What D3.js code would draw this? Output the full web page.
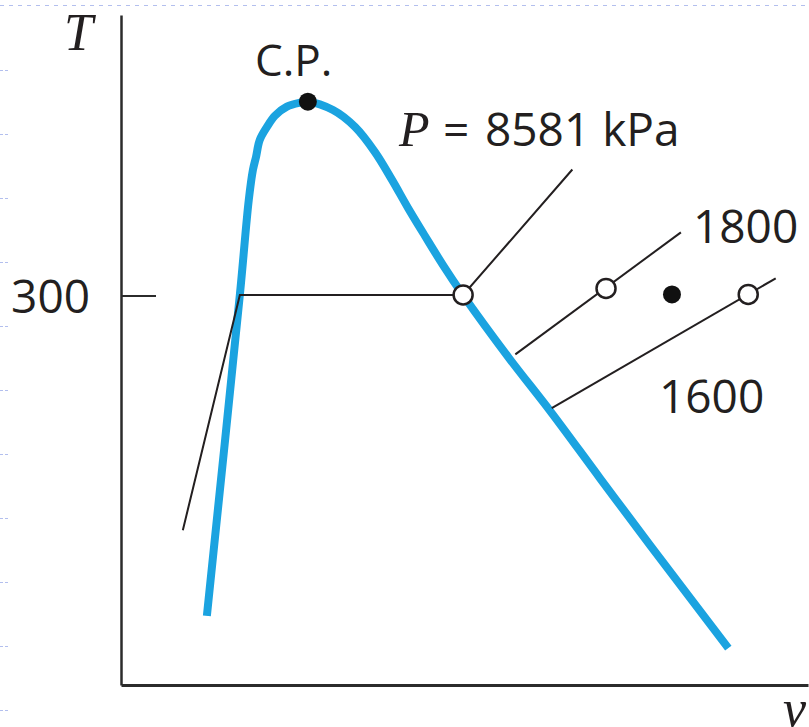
<!DOCTYPE html>
<html><head><meta charset="utf-8">
<script src="https://cdn.jsdelivr.net/npm/d3@7"></script>
<style>html,body{margin:0;padding:0;background:#fff;}svg{display:block}</style>
</head><body>
<svg id="chart" width="809" height="727"></svg>
<script>
// ---- data (v in arbitrary units, T in K) ----
const domeV = [1.25, 1.73, 1.86, 1.92, 1.965, 2.02, 2.125, 2.24, 2.415, 2.605, 2.72, 3.086, 3.406, 3.697, 3.945, 4.178, 4.425, 4.687, 4.978, 5.648, 6.259, 6.97, 7.70, 8.84];
const domeT = [176.6, 300.2, 336.8, 348.3, 353.3, 359.9, 364.9, 369.2, 372.7, 374.2, 374.6, 371.4, 364.9, 355.2, 344.5, 333.7, 322.9, 311.7, 300.2, 275.9, 255.1, 229.7, 203.9, 164.2];
const cpV = [2.72];
const cpT = [374.6];
const iso8581V = [0.90, 1.73, 4.98, 6.57];
const iso8581T = [209.6, 300.2, 300.2, 348.5];
const iso1800V = [5.74, 8.15];
const iso1800T = [277.3, 324.3];
const iso1600V = [6.27, 9.53];
const iso1600T = [256.6, 306.6];
const openStateV = [4.98, 7.06, 9.13];
const openStateT = [300.2, 302.7, 300.4];
const filledStateV = [8.02];
const filledStateT = [300.4];
const tTickValues = [300];
const tTickLabels = ["300"];
const pressureLabels = ["8581 kPa", "1800", "1600"];

const zip = (vs, ts) => vs.map((v, i) => ({v, T: ts[i]}));

const svg = d3.select("#chart");
const ink = "#231f20";
const blue = "#1ba3e0";
const sans = "'Open Sans', 'Noto Sans', sans-serif";
const serif = "'Liberation Serif', 'DejaVu Serif', serif";

// page artefacts (faint dashed border)
svg.append("line").attr("x1", 0).attr("x2", 809).attr("y1", 5.5).attr("y2", 5.5)
  .attr("stroke", "#b3bfee").attr("stroke-width", 1).attr("stroke-dasharray", "4,5");
svg.append("g").selectAll("line").data(d3.range(70, 727, 64)).join("line")
  .attr("x1", 0).attr("x2", 9).attr("y1", d => d + 0.5).attr("y2", d => d + 0.5)
  .attr("stroke", "#b3bfee").attr("stroke-width", 1).attr("stroke-dasharray", "3,2");

const x = d3.scaleLinear().domain([0, 10]).range([121, 808]);
const y = d3.scaleLinear().domain([150, 408]).range([685, 15]);

// axes
const yAxis = svg.append("g").attr("transform", "translate(121,0)")
  .call(d3.axisLeft(y).tickValues(tTickValues).tickFormat((d, i) => tTickLabels[i])
    .tickSizeInner(-35).tickSizeOuter(0).tickPadding(31));
yAxis.select(".domain").attr("stroke", "#2b2b2b").attr("stroke-width", 2.5);
yAxis.selectAll(".tick line").attr("stroke", "#2b2b2b").attr("stroke-width", 2);
yAxis.selectAll(".tick text").attr("font-family", sans).attr("font-size", 46)
  .attr("fill", ink).attr("dy", "0.36em");

const xAxis = svg.append("g").attr("transform", "translate(0,685)")
  .call(d3.axisBottom(x).tickValues([]).tickSizeOuter(0));
xAxis.select(".domain").attr("stroke", "#2b2b2b").attr("stroke-width", 3);

// axis titles
svg.append("text").attr("x", 64).attr("y", 50).text("T")
  .attr("font-family", serif).attr("font-style", "italic").attr("font-size", 52).attr("fill", ink);
svg.append("text").attr("x", 783).attr("y", 726).text("v")
  .attr("font-family", serif).attr("font-style", "italic").attr("font-size", 52).attr("fill", ink);

// saturation dome
const curve = d3.line().x(d => x(d.v)).y(d => y(d.T)).curve(d3.curveCatmullRom.alpha(0.5));
svg.append("path").datum(zip(domeV, domeT)).attr("d", curve)
  .attr("fill", "none").attr("stroke", blue).attr("stroke-width", 8).attr("stroke-linecap", "butt")
  .attr("stroke-linejoin", "round");

// isobars
const lin = d3.line().x(d => x(d.v)).y(d => y(d.T));
[zip(iso8581V, iso8581T), zip(iso1800V, iso1800T), zip(iso1600V, iso1600T)].forEach(pts => {
  svg.append("path").datum(pts).attr("d", lin)
    .attr("fill", "none").attr("stroke", ink).attr("stroke-width", 2);
});

// state points
svg.append("g").selectAll("circle").data(zip(openStateV, openStateT)).join("circle")
  .attr("cx", d => x(d.v)).attr("cy", d => y(d.T)).attr("r", 9.5)
  .attr("fill", "#fff").attr("stroke", ink).attr("stroke-width", 2.5);
svg.append("g").selectAll("circle").data(zip(filledStateV, filledStateT).concat(zip(cpV, cpT))).join("circle")
  .attr("cx", d => x(d.v)).attr("cy", d => y(d.T)).attr("r", 9).attr("fill", "#111");

// labels
svg.append("text").attr("x", 255).attr("y", 76).text("C.P.")
  .attr("font-family", sans).attr("font-size", 44).attr("fill", ink);
const pl = svg.append("text").attr("y", 146).attr("fill", ink);
pl.append("tspan").attr("x", 399).text("P")
  .attr("font-family", serif).attr("font-style", "italic").attr("font-size", 50);
pl.append("tspan").attr("x", 443).text("=")
  .attr("font-family", sans).attr("font-size", 46);
pl.append("tspan").attr("x", 485).text(pressureLabels[0])
  .attr("font-family", sans).attr("font-size", 46);
svg.append("text").attr("x", 693).attr("y", 243).text(pressureLabels[1])
  .attr("font-family", sans).attr("font-size", 46).attr("fill", ink);
svg.append("text").attr("x", 659).attr("y", 413).text(pressureLabels[2])
  .attr("font-family", sans).attr("font-size", 46).attr("fill", ink);
</script>
</body></html>
